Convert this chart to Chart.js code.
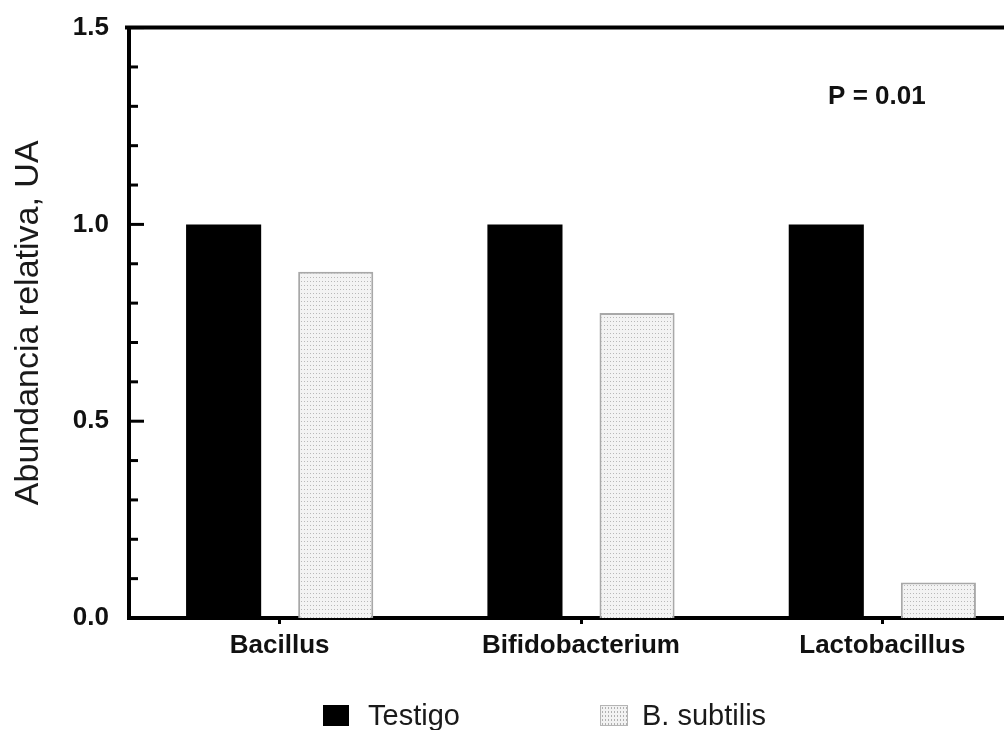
<!DOCTYPE html>
<html lang="es">
<head>
    <meta charset="UTF-8">
    <title>Abundancia relativa</title>
    <script src="https://cdn.jsdelivr.net/npm/chart.js"></script>
    <style>
        body {
            margin: 0;
            background: #fff;
            overflow: hidden;
            font-family: "Liberation Sans", Arial, sans-serif;
        }

        .wrap {
            position: relative;
            width: 1040px;
            height: 730px;
        }

        /* Leyenda debajo del gráfico */
        .legend {
            position: absolute;
            top: 699px;
            left: 0;
            width: 1004px;
            height: 32px;
        }

        .item {
            position: absolute;
            top: 0;
            display: flex;
            align-items: center;
            font-size: 29px;
            line-height: 32px;
            color: #1a1a1a;
        }

        .box {
            height: 21px;
            box-sizing: border-box;
        }

        .box.testigo {
            width: 26px;
            background: #000;
            margin-right: 19px;
        }

        .box.subtilis {
            width: 28px;
            border: 1px solid #b5b5b5;
            background-color: #f2f2f2;
            background-image: radial-gradient(#b0b0b0 0.7px, transparent 0.9px);
            background-size: 3px 4px;
            margin-right: 14px;
        }
    </style>
</head>
<body>
    <div class="wrap">
        <canvas id="chart"></canvas>
        <div class="legend">
            <div class="item" style="left:323px"><span class="box testigo"></span>Testigo</div>
            <div class="item" style="left:600px"><span class="box subtilis"></span>B. subtilis</div>
        </div>
    </div>

    <script>
        var categories = ['Bacillus', 'Bifidobacterium', 'Lactobacillus'];
        var testigo = [1.0, 1.0, 1.0];
        var subtilis = [0.88, 0.775, 0.09];
        var seriesNames = ['Testigo', 'B. subtilis'];

        var yMax = 1.5;
        var yMinorStep = 0.1;
        var yMajorStep = 0.5;
        var yTitle = 'Abundancia relativa, UA';

        // texto de la prueba estadística, en unidades de los ejes
        var pText = 'P = 0.01';
        var pAt = { x: 1.82, y: 1.325 };

        var FONT = '"Liberation Sans", Arial, sans-serif';

        function isMajor(v) {
            var r = v / yMajorStep;
            return Math.abs(r - Math.round(r)) < 1e-6;
        }

        // relleno punteado de las barras claras
        function dotPattern() {
            var c = document.createElement('canvas');
            c.width = 3;
            c.height = 4;
            var g = c.getContext('2d');
            g.fillStyle = '#f3f3f3';
            g.fillRect(0, 0, 3, 4);
            g.fillStyle = '#b8b8b8';
            g.fillRect(1, 1, 1, 1);
            return g.createPattern(c, 'repeat');
        }

        // marco superior, marcas interiores del eje Y y la etiqueta P
        var framePlugin = {
            id: 'frame',
            afterDraw: function (chart) {
                var ctx = chart.ctx;
                var a = chart.chartArea;
                var x = chart.scales.x;
                var y = chart.scales.y;
                ctx.save();
                ctx.strokeStyle = '#000';
                ctx.lineWidth = 4;
                ctx.beginPath();
                ctx.moveTo(a.left - 4, a.top);
                ctx.lineTo(a.right, a.top);
                ctx.stroke();

                ctx.lineWidth = 3;
                y.ticks.forEach(function (t) {
                    var py = y.getPixelForValue(t.value);
                    var len = isMajor(t.value) ? 15 : 9;
                    ctx.beginPath();
                    ctx.moveTo(a.left, py);
                    ctx.lineTo(a.left + len, py);
                    ctx.stroke();
                });

                ctx.fillStyle = '#111';
                ctx.font = 'bold 26px ' + FONT;
                ctx.textAlign = 'left';
                ctx.textBaseline = 'middle';
                ctx.fillText(pText, x.getPixelForValue(pAt.x), y.getPixelForValue(pAt.y));
                ctx.restore();
            }
        };

        var ctx = document.getElementById('chart').getContext('2d');
        var chart = new Chart(ctx, {
            type: 'bar',
            data: {
                labels: categories,
                datasets: [{
                    label: seriesNames[0],
                    data: testigo,
                    backgroundColor: '#000',
                    borderWidth: 0
                }, {
                    label: seriesNames[1],
                    data: subtilis,
                    backgroundColor: dotPattern(),
                    borderColor: '#a8a8a8',
                    borderWidth: 2
                }]
            },
            options: {
                responsive: true,
                maintainAspectRatio: false,
                animation: false,
                categoryPercentage: 0.744,
                barPercentage: 0.67,
                layout: { padding: { top: 19, right: 7, bottom: 62, left: 0 } },
                plugins: {
                    legend: { display: false },
                    tooltip: { enabled: false }
                },
                scales: {
                    x: {
                        offset: true,
                        grid: {
                            display: true,
                            drawOnChartArea: false,
                            drawTicks: true,
                            tickLength: 6,
                            tickWidth: 3,
                            color: '#000',
                            offset: false
                        },
                        border: { display: true, color: '#000', width: 4 },
                        ticks: {
                            color: '#111',
                            padding: 6,
                            font: { family: FONT, size: 26, weight: 'bold' }
                        },
                        afterFit: function (s) { s.height = 50; }
                    },
                    y: {
                        min: 0,
                        max: yMax,
                        grid: { display: false },
                        border: { display: true, color: '#000', width: 4 },
                        ticks: {
                            stepSize: yMinorStep,
                            autoSkip: false,
                            color: '#111',
                            padding: 12,
                            font: { family: FONT, size: 26, weight: 'bold' },
                            callback: function (v) { return isMajor(v) ? v.toFixed(1) : ''; }
                        },
                        title: {
                            display: true,
                            text: yTitle,
                            color: '#1a1a1a',
                            padding: { top: 8, bottom: 0 },
                            font: { family: FONT, size: 34 }
                        },
                        afterFit: function (s) { s.width = 129; }
                    }
                }
            },
            plugins: [framePlugin]
        });
    </script>
</body>
</html>
